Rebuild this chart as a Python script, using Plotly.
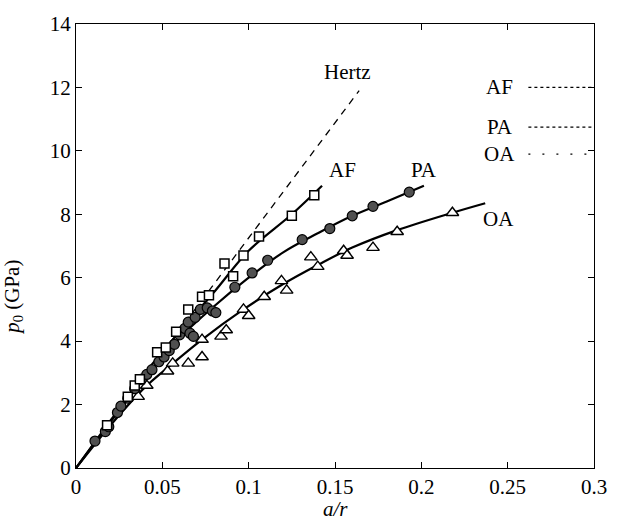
import plotly.graph_objects as go

# Measured contact pressure p0 versus a/r for three materials
af_x = [0.018, 0.030, 0.034, 0.037, 0.047, 0.052, 0.058, 0.065, 0.073, 0.077,
        0.086, 0.091, 0.097, 0.106, 0.125, 0.138]
af_y = [1.35, 2.25, 2.60, 2.80, 3.65, 3.80, 4.30, 5.00, 5.40, 5.45,
        6.45, 6.05, 6.70, 7.30, 7.95, 8.60]

pa_x = [0.011, 0.017, 0.019, 0.024, 0.026, 0.030, 0.034, 0.038, 0.041, 0.044,
        0.048, 0.051, 0.054, 0.057, 0.060, 0.063, 0.065, 0.066, 0.068, 0.069,
        0.072, 0.076, 0.079, 0.081, 0.092, 0.102, 0.111, 0.131, 0.147, 0.160,
        0.172, 0.193]
pa_y = [0.85, 1.15, 1.30, 1.75, 1.95, 2.20, 2.50, 2.80, 2.95, 3.10,
        3.35, 3.50, 3.70, 3.90, 4.20, 4.40, 4.60, 4.25, 4.15, 4.75,
        5.00, 5.05, 4.95, 4.90, 5.70, 6.15, 6.55, 7.20, 7.55, 7.95,
        8.25, 8.70]

oa_x = [0.036, 0.041, 0.053, 0.056, 0.065, 0.073, 0.073, 0.084, 0.087, 0.097,
        0.100, 0.109, 0.119, 0.122, 0.136, 0.140, 0.155, 0.157, 0.172, 0.186,
        0.218]
oa_y = [2.25, 2.60, 3.05, 3.30, 3.30, 3.50, 4.05, 4.15, 4.35, 5.00,
        4.80, 5.40, 5.90, 5.60, 6.65, 6.35, 6.85, 6.70, 6.95, 7.45,
        8.05]

# Fitted curves through each data set
af_fit_x = [0.0, 0.02, 0.04, 0.06, 0.08, 0.10, 0.125, 0.1425]
af_fit_y = [0.0, 1.50, 3.00, 4.30, 5.55, 6.85, 8.00, 8.90]

pa_fit_x = [0.0, 0.02, 0.04, 0.06, 0.08, 0.10, 0.12, 0.14, 0.16, 0.18, 0.2015]
pa_fit_y = [0.0, 1.45, 2.85, 4.10, 5.10, 6.00, 6.80, 7.40, 7.95, 8.40, 8.90]

oa_fit_x = [0.0, 0.02, 0.04, 0.055, 0.073, 0.097, 0.12, 0.14, 0.16, 0.186, 0.218, 0.237]
oa_fit_y = [0.0, 1.35, 2.55, 3.25, 4.05, 5.00, 5.80, 6.40, 6.95, 7.50, 8.05, 8.35]

# Hertz theory (linear)
hertz_x = [0.0, 0.164]
hertz_y = [0.0, 11.9]

x_ticks = [0, 0.05, 0.1, 0.15, 0.2, 0.25, 0.3]
x_tick_text = ["0", "0.05", "0.1", "0.15", "0.2", "0.25", "0.3"]
y_ticks = [0, 2, 4, 6, 8, 10, 12, 14]

FONT = "Liberation Serif, Times New Roman, serif"
FS = 21

fig = go.Figure()

fig.add_trace(go.Scatter(x=hertz_x, y=hertz_y, mode="lines",
                         line=dict(color="black", width=1.3, dash="7px,6px")))
for fx, fy in [(af_fit_x, af_fit_y), (pa_fit_x, pa_fit_y), (oa_fit_x, oa_fit_y)]:
    fig.add_trace(go.Scatter(x=fx, y=fy, mode="lines", line_shape="spline",
                             line=dict(color="black", width=2.2)))

fig.add_trace(go.Scatter(x=oa_x, y=oa_y, mode="markers",
                         marker=dict(symbol="triangle-up", size=11, color="white",
                                     line=dict(color="black", width=1.4))))
fig.add_trace(go.Scatter(x=pa_x, y=pa_y, mode="markers",
                         marker=dict(symbol="circle", size=10, color="#505050",
                                     line=dict(color="black", width=1.2))))
fig.add_trace(go.Scatter(x=af_x, y=af_y, mode="markers",
                         marker=dict(symbol="square", size=9, color="white",
                                     line=dict(color="black", width=1.5))))

# Curve labels
labels = [("Hertz", 0.157, 12.5), ("AF", 0.1545, 9.4), ("PA", 0.2015, 9.4), ("OA", 0.2445, 7.85)]
for txt, lx, ly in labels:
    fig.add_annotation(x=lx, y=ly, text=txt, showarrow=False,
                       font=dict(family=FONT, size=FS, color="black"))

# Key at the right edge
key = [("AF", 12.0, "3px,3px"), ("PA", 10.75, "3px,3px"), ("OA", 9.9, "2px,12px")]
for txt, ky, dash in key:
    fig.add_annotation(x=0.2455, y=ky, text=txt, showarrow=False,
                       font=dict(family=FONT, size=FS, color="black"))
    fig.add_shape(type="line", x0=0.262, x1=0.3, y0=ky, y1=ky,
                  line=dict(color="black", width=1.2, dash=dash))

# Axis titles
fig.add_annotation(xref="paper", yref="paper", x=0.5, y=-0.093, yanchor="middle",
                   text="<i>a/r</i>", showarrow=False,
                   font=dict(family=FONT, size=FS, color="black"))
fig.add_annotation(xref="paper", yref="paper", x=-0.122, y=0.385, xanchor="center",
                   text="<i>p</i><sub>0</sub> (GPa)", showarrow=False, textangle=-90,
                   font=dict(family=FONT, size=FS, color="black"))

axis_common = dict(showgrid=False, zeroline=False, showline=True, mirror="ticks",
                   linecolor="black", linewidth=1.2, ticks="inside", ticklen=6,
                   tickcolor="black", tickwidth=1.2,
                   tickfont=dict(family=FONT, size=FS, color="black"))

fig.update_layout(
    width=619, height=526,
    margin=dict(l=76, r=19, t=18, b=58),
    paper_bgcolor="white", plot_bgcolor="white",
    showlegend=False,
    xaxis=dict(range=[0, 0.3], tickvals=x_ticks, ticktext=x_tick_text, **axis_common),
    yaxis=dict(range=[0, 14], tickvals=y_ticks, **axis_common),
)

fig.write_html("out.html")
